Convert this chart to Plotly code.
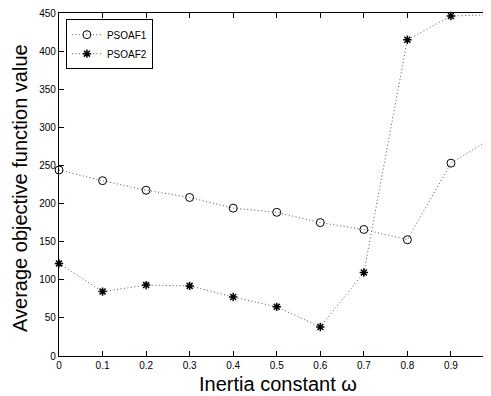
import plotly.graph_objects as go

x_vals = [0, 0.1, 0.2, 0.3, 0.4, 0.5, 0.6, 0.7, 0.8, 0.9, 1.0]
psoaf1 = [244, 230, 217.5, 208, 194, 188.5, 175, 166, 152.5, 253, 288]
psoaf2 = [121.5, 84.5, 93, 92, 77.5, 64.5, 38, 109.5, 415, 446, 448]
x_ticks = [0, 0.1, 0.2, 0.3, 0.4, 0.5, 0.6, 0.7, 0.8, 0.9]
x_tick_text = ["0", "0.1", "0.2", "0.3", "0.4", "0.5", "0.6", "0.7", "0.8", "0.9"]
y_ticks = [0, 50, 100, 150, 200, 250, 300, 350, 400, 450]

font_family = "Liberation Sans, Arial, Helvetica, sans-serif"
dot_style = "1px,2.5px"

fig = go.Figure()
fig.add_trace(go.Scatter(
    x=x_vals, y=psoaf1, name="PSOAF1", mode="lines+markers",
    line=dict(color="#555", width=1, dash=dot_style),
    marker=dict(symbol="circle-open", size=8, color="black", line=dict(width=1, color="black")),
    cliponaxis=False,
))
fig.add_trace(go.Scatter(
    x=x_vals, y=psoaf2, name="PSOAF2", mode="lines+markers",
    line=dict(color="#555", width=1, dash=dot_style),
    marker=dict(symbol="asterisk-open", size=7, color="black", line=dict(width=1.5, color="black")),
    cliponaxis=False,
))

fig.update_layout(
    width=491, height=396,
    margin=dict(l=51, r=8, t=5, b=48, autoexpand=False),
    paper_bgcolor="white", plot_bgcolor="white",
    font=dict(family=font_family, color="black", size=10),
    showlegend=True,
    legend=dict(
        x=0.016, y=0.982, xanchor="left", yanchor="top",
        bgcolor="white", bordercolor="black", borderwidth=1,
        font=dict(size=10, family=font_family),
        tracegroupgap=0,
    ),
    xaxis=dict(
        range=[0, 0.992], tickvals=x_ticks, ticktext=x_tick_text,
        showgrid=False, zeroline=False, showline=True, linecolor="black", linewidth=1.3,
        mirror="ticks", ticks="inside", ticklen=5, tickcolor="black",
        tickfont=dict(size=10), automargin=False, ticklabeloverflow="allow",
    ),
    yaxis=dict(
        range=[0, 450], tickvals=y_ticks,
        showgrid=False, zeroline=False, showline=True, linecolor="black", linewidth=1.3,
        mirror="ticks", ticks="inside", ticklen=5, tickcolor="black",
        tickfont=dict(size=10), automargin=False, ticklabeloverflow="allow",
    ),
    annotations=[
        dict(text="Inertia constant ω", xref="paper", yref="paper", x=0.506, y=0,
             xanchor="center", yanchor="middle", yshift=-28, showarrow=False,
             font=dict(size=20, family=font_family)),
        dict(text="Average objective function value", xref="paper", yref="paper", x=0, y=0.49,
             xanchor="center", yanchor="middle", xshift=-39, textangle=-90, showarrow=False,
             font=dict(size=20, family=font_family)),
    ],
)

fig.write_html("out.html")
